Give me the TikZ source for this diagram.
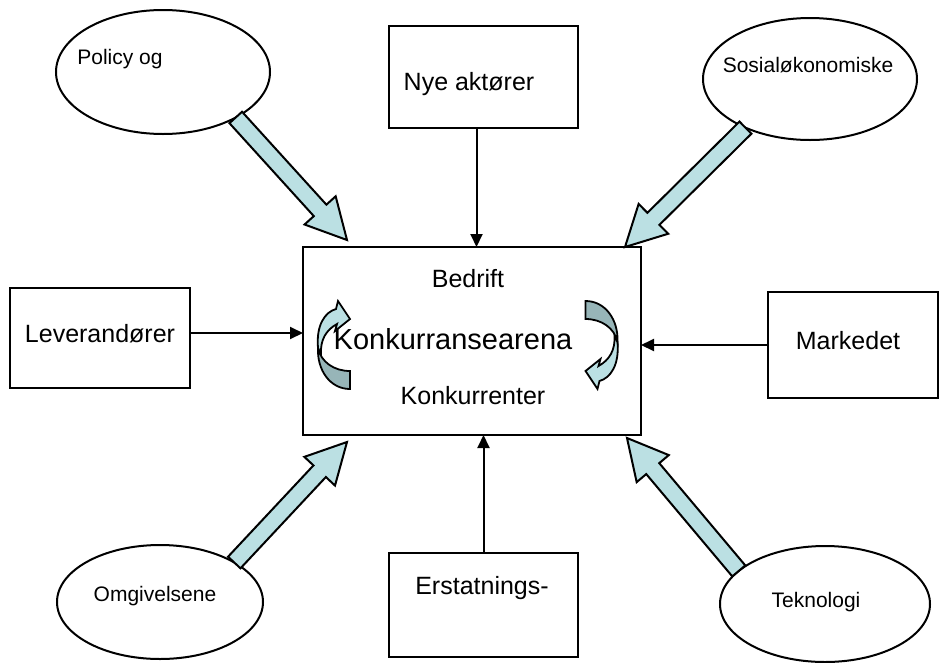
\documentclass[tikz,border=0pt]{standalone}
\usepackage{fontspec}
\setmainfont{Liberation Sans}
\usetikzlibrary{calc,arrows.meta,shapes.geometric}
\definecolor{paleteal}{HTML}{BBE0E3}
\definecolor{duskteal}{HTML}{97B5B8}
\tikzset{
  box/.style={draw, line width=2pt, fill=white, inner sep=0pt, outer sep=0pt},
  oval/.style={draw, ellipse, line width=2pt, fill=white, inner sep=0pt, outer sep=0pt},
  small/.style={font=\fontsize{21}{25}\selectfont, inner sep=0pt, anchor=mid},
  mid/.style={font=\fontsize{25}{30}\selectfont, inner sep=0pt, anchor=mid},
  big/.style={font=\fontsize{29}{34}\selectfont, inner sep=0pt, anchor=mid},
  feed/.style={line width=2pt, -{Triangle[length=13pt,width=12pt]}},
  fat/.style={draw, line width=2pt, fill=paleteal, line join=miter},
  swirl/.pic={
    % front face of the ribbon with its head
    \draw[line width=1.8pt, fill=paleteal, line join=miter]
      (-16,3) .. controls (-18,-20) and (-9,-33) .. (2,-36)
      -- (4,-44) -- (16,-26) -- (1,-14) -- (3,-21)
      .. controls (-8,-15) and (-14,-5) .. (-13,10) -- cycle;
    % back face of the ribbon
    \draw[line width=1.8pt, fill=duskteal, line join=miter]
      (16,44) .. controls (-4,44) and (-17,25) .. (-16,3)
      .. controls (-13,17) and (0,26) .. (16,26) -- cycle;
  }
}
% wide block arrow from #1 to #2
\newcommand\blockarrow[2]{%
  \coordinate (bah) at ($(#2)!40pt!(#1)$);
  \draw[fat] ($(#1)!8.5pt!90:(#2)$) -- ($(bah)!8.5pt!90:(#2)$)
    -- ($(bah)!21pt!90:(#2)$) -- (#2) -- ($(bah)!21pt!-90:(#2)$)
    -- ($(bah)!8.5pt!-90:(#2)$) -- ($(#1)!8.5pt!-90:(#2)$) -- cycle;
}
\begin{document}
\begin{tikzpicture}[x=1pt, y=-1pt]
  \useasboundingbox (0,0) rectangle (948,662);

  % outer influences
  \node[oval, minimum width=214pt, minimum height=124pt] (pol) at (163,72) {};
  \node[oval, minimum width=214pt, minimum height=122pt] (sos) at (810,79) {};
  \node[oval, minimum width=206pt, minimum height=114pt] (omg) at (160,602) {};
  \node[oval, minimum width=210pt, minimum height=116pt] (tek) at (825,604) {};

  % actors
  \node[box, minimum width=189pt, minimum height=102pt] (nye) at (483.5,77) {};
  \node[box, minimum width=189pt, minimum height=104pt] (erst) at (483.5,605) {};
  \node[box, minimum width=180pt, minimum height=100pt] (lev) at (100,338) {};
  \node[box, minimum width=170pt, minimum height=106pt] (mark) at (853,345) {};
  \node[box, minimum width=338pt, minimum height=188pt] (arena) at (472,341) {};

  % arrow tips at the arena
  \coordinate (tipNW) at (347,240);
  \coordinate (tipNE) at (625,247);
  \coordinate (tipSW) at (347,442);
  \coordinate (tipSE) at (627,438);

  \blockarrow{pol.-32}{tipNW}
  \blockarrow{sos.217}{tipNE}
  \blockarrow{omg.28}{tipSW}
  \blockarrow{tek.159}{tipSE}

  % direct actors
  \coordinate (nyeout) at ([xshift=-7pt]nye.south);
  \draw[feed] (nyeout) -- (nyeout |- arena.north);
  \draw[feed] (erst.north) -- (erst.north |- arena.south);
  \coordinate (levout) at ([yshift=5pt]lev.east);
  \draw[feed] (levout) -- (levout -| arena.west);
  \draw[feed] (mark.west) -- (mark.west -| arena.east);

  % rivalry cycle
  \pic (cycleL) at (334,345) {swirl};
  \pic[rotate=180] (cycleR) at (601.5,345) {swirl};

  % labels
  \node[small] (tpol) at (120,62) {Policy og};
  \node[small] (tsos) at (808,70) {Sosialøkonomiske};
  \node[small] (tomg) at (155,599) {Omgivelsene};
  \node[small] (ttek) at (816,605) {Teknologi};
  \node[mid] (tnye) at (469,88) {Nye aktører};
  \node[mid] (terst) at (482,592) {Erstatnings-};
  \node[mid] (tlev) at (100,340) {Leverandører};
  \node[mid] (tmark) at (848,347) {Markedet};
  \node[mid] (tbed) at (468,285) {Bedrift};
  \node[big] (tarena) at (453,347) {Konkurransearena};
  \node[mid] (tkonk) at (473,402) {Konkurrenter};
\end{tikzpicture}
\end{document}
